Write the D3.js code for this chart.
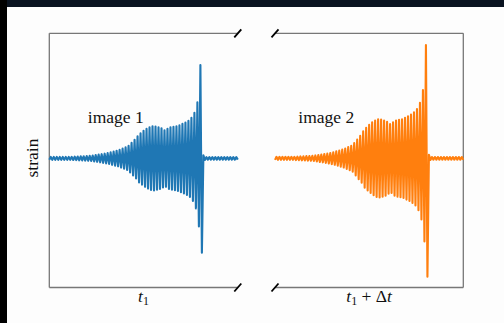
<!DOCTYPE html>
<html>
<head>
<meta charset="utf-8">
<script src="https://cdn.jsdelivr.net/npm/d3@7"></script>
<style>
  html, body { margin: 0; padding: 0; background: #000; }
  svg { display: block; }
  text { font-family: "Liberation Serif", serif; fill: #111; }
</style>
</head>
<body>
<div id="chart"></div>
<script>
// sample grid of the waveform (s), merger at t = 0
const t0 = -0.303;
const dt = 0.003;

// strain at successive half-cycle extrema (units of 1e-21)
const strainImage1 = [
  -0.014, 0.014, -0.014, 0.014, -0.014, 0.014, -0.014, 0.014, -0.014, 0.014,
  -0.014, 0.014, -0.014, 0.014, -0.015, 0.015, -0.016, 0.017, -0.017, 0.018,
  -0.019, 0.020, -0.020, 0.021, -0.022, 0.023, -0.024, 0.025, -0.026, 0.028,
  -0.030, 0.032, -0.034, 0.037, -0.039, 0.041, -0.044, 0.046, -0.049, 0.052,
  -0.055, 0.059, -0.063, 0.067, -0.071, 0.075, -0.078, 0.084, -0.090, 0.096,
  -0.102, 0.108, -0.113, 0.123, -0.137, 0.152, -0.167, 0.181, -0.196, 0.216,
  -0.235, 0.245, -0.257, 0.269, -0.279, 0.289, -0.296, 0.304, -0.310, 0.314,
  -0.314, 0.312, -0.308, 0.304, -0.300, 0.294, -0.284, 0.275, -0.279, 0.289,
  -0.299, 0.304, -0.307, 0.310, -0.312, 0.314, -0.319, 0.325, -0.331, 0.338,
  -0.343, 0.351, -0.359, 0.369, -0.379, 0.397, -0.417, 0.446, -0.490, 0.549,
  -0.667, 0.915, -0.925, 0.030, -0.015, 0.012, -0.012, 0.012, -0.012, 0.012,
  -0.012, 0.012, -0.012, 0.012, -0.012, 0.012, -0.012, 0.012, -0.012, 0.012,
  -0.012, 0.012, -0.012, 0.012, -0.012, 0.012, -0.012
];

const strainImage2 = [
  -0.015, 0.015, -0.015, 0.015, -0.015, 0.015, -0.015, 0.015, -0.015, 0.015,
  -0.015, 0.015, -0.015, 0.015, -0.017, 0.017, -0.018, 0.019, -0.019, 0.020,
  -0.021, 0.022, -0.022, 0.023, -0.024, 0.025, -0.026, 0.029, -0.030, 0.032,
  -0.035, 0.037, -0.039, 0.043, -0.045, 0.047, -0.051, 0.053, -0.056, 0.060,
  -0.063, 0.068, -0.072, 0.077, -0.082, 0.086, -0.090, 0.097, -0.104, 0.110,
  -0.117, 0.124, -0.130, 0.150, -0.167, 0.185, -0.204, 0.221, -0.239, 0.264,
  -0.287, 0.299, -0.314, 0.328, -0.340, 0.353, -0.361, 0.371, -0.378, 0.383,
  -0.383, 0.381, -0.376, 0.371, -0.366, 0.359, -0.346, 0.336, -0.340, 0.353,
  -0.365, 0.371, -0.375, 0.378, -0.381, 0.383, -0.389, 0.397, -0.404, 0.412,
  -0.418, 0.428, -0.438, 0.450, -0.462, 0.484, -0.509, 0.544, -0.598, 0.670,
  -0.814, 1.110, -1.160, 0.036, -0.016, 0.013, -0.013, 0.013, -0.013, 0.013,
  -0.013, 0.013, -0.013, 0.013, -0.013, 0.013, -0.013, 0.013, -0.013, 0.013,
  -0.013, 0.013, -0.013, 0.013, -0.013, 0.013, -0.013
];

const panelLabels = ["image 1", "image 2"];
const colors = ["#1f77b4", "#ff7f0e"];

const width = 504, height = 323;

const svg = d3.select("#chart").append("svg")
  .attr("width", width)
  .attr("height", height);

// photo-like frame: dark strips at top and left, white figure area
svg.append("rect").attr("width", width).attr("height", height).attr("fill", "#000");
svg.append("rect").attr("x", 7).attr("width", width - 7).attr("height", 7).attr("fill", "#0a1320");
svg.append("rect").attr("x", 7).attr("y", 7)
  .attr("width", width - 7).attr("height", height - 7).attr("fill", "#fdfdfd");

const yTop = 33.3, yBottom = 287.5;
const y = d3.scaleLinear().domain([-1.265, 1.225]).range([yBottom, yTop]);

const panels = [
  { data: strainImage1, range: [49.3, 237.8], side: "left" },
  { data: strainImage2, range: [275, 463.3], side: "right" }
];

const spineColor = "#777";

panels.forEach((p, k) => {
  const x = d3.scaleLinear()
    .domain([t0, t0 + dt * (p.data.length - 1)])
    .range(p.range);
  const g = svg.append("g");

  const [x0, x1] = p.range;
  // spines: top, bottom, and the outer side only
  g.append("line").attr("x1", x0).attr("x2", x1).attr("y1", yTop).attr("y2", yTop);
  g.append("line").attr("x1", x0).attr("x2", x1).attr("y1", yBottom).attr("y2", yBottom);
  const sx = p.side === "left" ? x0 : x1;
  g.append("line").attr("x1", sx).attr("x2", sx).attr("y1", yTop).attr("y2", yBottom);
  g.selectAll("line")
    .attr("stroke", spineColor)
    .attr("stroke-width", 1.3);

  const line = d3.line()
    .x((d, i) => x(t0 + dt * i))
    .y(d => y(d));

  g.append("path")
    .datum(p.data)
    .attr("d", line)
    .attr("fill", "none")
    .attr("stroke", colors[k])
    .attr("stroke-width", 2.1)
    .attr("stroke-linejoin", "round");

  g.append("text")
    .attr("x", x0 + (k === 0 ? 38.5 : 23.3))
    .attr("y", 123)
    .attr("font-size", 17.5)
    .text(panelLabels[k]);

  // broken-axis marks on the inner side
  const bx = p.side === "left" ? x1 : x0;
  [yTop, yBottom].forEach(by => {
    g.append("line")
      .attr("x1", bx - 3.5).attr("y1", by + 4)
      .attr("x2", bx + 3.5).attr("y2", by - 4)
      .attr("stroke", "#000")
      .attr("stroke-width", 1.8);
  });
});

// axis labels
svg.append("text")
  .attr("transform", "translate(38,158) rotate(-90)")
  .attr("text-anchor", "middle")
  .attr("font-size", 17.5)
  .text("strain");

const lab1 = svg.append("text")
  .attr("x", (49.3 + 237.8) / 2)
  .attr("y", 302)
  .attr("text-anchor", "middle")
  .attr("font-size", 17.5);
lab1.append("tspan").attr("font-style", "italic").text("t");
lab1.append("tspan").attr("font-size", 12).attr("dy", 3).text("1");

const lab2 = svg.append("text")
  .attr("x", (275 + 463.3) / 2)
  .attr("y", 302)
  .attr("text-anchor", "middle")
  .attr("font-size", 17.5);
lab2.append("tspan").attr("font-style", "italic").text("t");
lab2.append("tspan").attr("font-size", 12).attr("dy", 3).text("1");
lab2.append("tspan").attr("dy", -3).text(" + Δ");
lab2.append("tspan").attr("font-style", "italic").text("t");
</script>
</body>
</html>
